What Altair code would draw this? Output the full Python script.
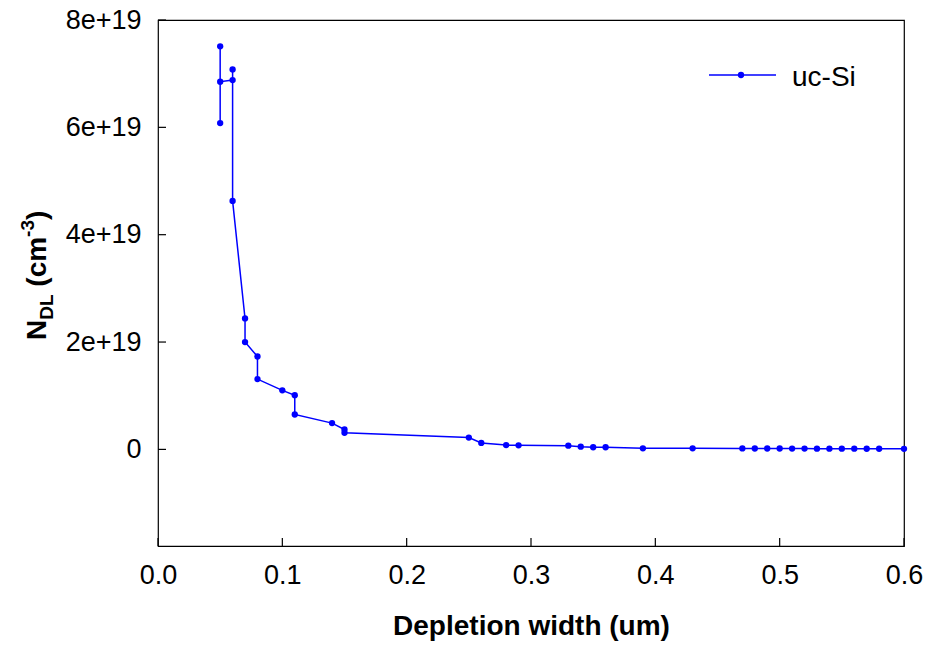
import altair as alt
import pandas as pd

# ---- data ----
DEPTH_UM = [0.05, 0.05, 0.05, 0.06, 0.06, 0.06, 0.07, 0.07, 0.08, 0.08,
            0.10, 0.11, 0.11, 0.14, 0.15, 0.15, 0.25, 0.26, 0.28, 0.29,
            0.33, 0.34, 0.35, 0.36, 0.39, 0.43, 0.47, 0.48, 0.49, 0.50,
            0.51, 0.52, 0.53, 0.54, 0.55, 0.56, 0.57, 0.58, 0.60]
NDL_E19 = [6.08, 7.51, 6.85, 6.88, 7.08, 4.63, 2.44, 2.00, 1.73, 1.31,
           1.10, 1.01, 0.65, 0.49, 0.37, 0.31, 0.22, 0.12, 0.08, 0.075,
           0.07, 0.05, 0.04, 0.04, 0.02, 0.02, 0.018, 0.017, 0.016, 0.016,
           0.015, 0.015, 0.014, 0.014, 0.013, 0.013, 0.012, 0.012, 0.01]
SERIES = "uc-Si"
X_TICKS = [0.0, 0.1, 0.2, 0.3, 0.4, 0.5, 0.6]
Y_TICKS = [0, 2, 4, 6, 8]
X_TITLE = "Depletion width (um)"

W, H = 746, 526
BLUE = "#0000ff"
FONT = "Liberation Sans"
LBL = 27

df = pd.DataFrame({"x": DEPTH_UM, "y": NDL_E19, "idx": range(len(DEPTH_UM)), "s": SERIES})

xscale = alt.Scale(domain=[0, 0.6], nice=False, zero=False)
yscale = alt.Scale(domain=[-1.8, 8], nice=False, zero=False)

xaxis = alt.Axis(
    values=X_TICKS, format=".1f", ticks=False, domain=False, grid=False,
    labelFlush=False, labelOverlap=False,
    labelFontSize=LBL, labelFont=FONT, labelColor="black", labelPadding=16,
    title=X_TITLE, titleFont=FONT, titleFontSize=28, titleFontWeight="bold",
    titleColor="black", titlePadding=24)
yaxis = alt.Axis(
    values=Y_TICKS, ticks=False, domain=False, grid=False,
    labelFlush=False, labelOverlap=False,
    labelExpr="datum.value == 0 ? '0' : datum.value + 'e+19'",
    labelFontSize=LBL, labelFont=FONT, labelColor="black", labelPadding=17,
    title="")

base = alt.Chart(df).mark_line(
    color=BLUE, strokeWidth=1.5,
    point=alt.OverlayMarkDef(filled=True, size=40, color=BLUE, opacity=1),
).encode(
    x=alt.X("x:Q", scale=xscale, axis=xaxis),
    y=alt.Y("y:Q", scale=yscale, axis=yaxis),
    order=alt.Order("idx:Q"),
)

# inward tick marks
xt = alt.Chart(pd.DataFrame({"x": X_TICKS})).mark_rule(color="black", strokeWidth=1.2).encode(
    x=alt.X("x:Q", scale=xscale, axis=xaxis), y=alt.value(H), y2=alt.value(H - 8))
yt = alt.Chart(pd.DataFrame({"y": Y_TICKS})).mark_rule(color="black", strokeWidth=1.2).encode(
    y=alt.Y("y:Q", scale=yscale, axis=yaxis), x=alt.value(0), x2=alt.value(8))


def txt(t, x, y, size, weight="normal", angle=0, align="left", baseline="alphabetic"):
    return alt.Chart(pd.DataFrame({"t": [t]})).mark_text(
        font=FONT, fontSize=size, fontWeight=weight, angle=angle, align=align,
        baseline=baseline, color="black").encode(
        x=alt.value(x), y=alt.value(y), text="t:N")


# y-axis title with subscript/superscript (rotated, reading bottom to top)
BIG, SMALL = 28, 19
bx = -112
cur = 340 - 20
parts = []
parts.append(txt("N", bx, cur, BIG, "bold", 270)); cur -= 0.722 * BIG
parts.append(txt("DL", bx + 7, cur, SMALL, "bold", 270)); cur -= (0.722 + 0.611) * SMALL
cur -= 0.278 * BIG
parts.append(txt("(cm", bx, cur, BIG, "bold", 270)); cur -= (0.333 + 0.556 + 0.889) * BIG
parts.append(txt("-3", bx - 12, cur, SMALL, "bold", 270)); cur -= (0.333 + 0.556) * SMALL
parts.append(txt(")", bx, cur, BIG, "bold", 270))

# legend
leg_line = alt.Chart(pd.DataFrame({"s": [SERIES]})).mark_rule(color=BLUE, strokeWidth=1.5).encode(
    x=alt.value(551), x2=alt.value(618), y=alt.value(55))
leg_pt = alt.Chart(pd.DataFrame({"s": [SERIES]})).mark_point(filled=True, size=40, color=BLUE, opacity=1).encode(
    x=alt.value(583), y=alt.value(55))
leg_txt = txt(SERIES, 634, 66, 28)

chart = alt.layer(base, xt, yt, leg_line, leg_pt, leg_txt, *parts).properties(
    width=W, height=H,
    autosize=alt.AutoSizeParams(type="none"),
    padding={"left": 158, "top": 20, "right": 24, "bottom": 99},
).configure(background="white").configure_view(stroke="black", strokeWidth=1.2)

chart.save("out.html", embed_options={"renderer": "svg", "actions": False})
